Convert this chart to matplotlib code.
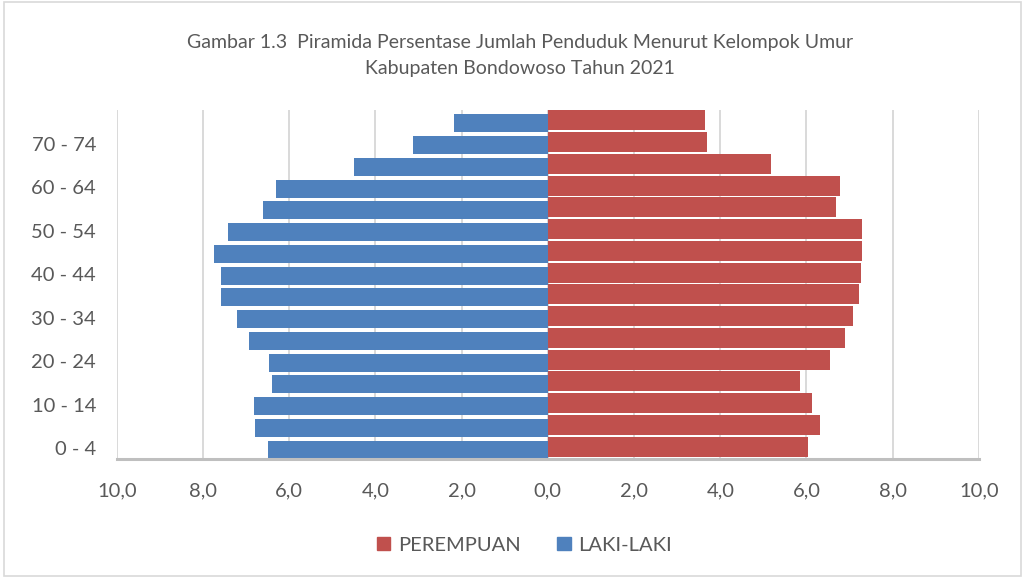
import matplotlib.pyplot as plt
from matplotlib.patches import Patch, Rectangle

plt.rcParams['font.family'] = ['Lato', 'DejaVu Sans']

age_groups = ['0 - 4', '5 - 9', '10 - 14', '15 - 19', '20 - 24', '25 - 29', '30 - 34', '35 - 39',
              '40 - 44', '45 - 49', '50 - 54', '55 - 59', '60 - 64', '65 - 69', '70 - 74', '75+']
laki = [6.49, 6.79, 6.81, 6.40, 6.47, 6.93, 7.21, 7.58,
        7.58, 7.74, 7.41, 6.60, 6.30, 4.50, 3.13, 2.18]
perempuan = [6.04, 6.32, 6.13, 5.85, 6.55, 6.90, 7.08, 7.22,
             7.27, 7.29, 7.29, 6.69, 6.78, 5.18, 3.70, 3.65]
xticks = [-10, -8, -6, -4, -2, 0, 2, 4, 6, 8, 10]

blue = '#4F81BD'
red = '#C0504D'
txt = '#595959'

fig = plt.figure(figsize=(10.25, 5.78), dpi=100)
ax = fig.add_axes([0.114, 0.206, 0.841, 0.604])

y = list(range(len(age_groups)))
ax.barh([v - 0.07 for v in y], [-v for v in laki], height=0.83, color=blue, zorder=3)
ax.barh([v + 0.07 for v in y], perempuan, height=0.92, color=red, zorder=3)

ax.set_xlim(-10, 10)
ax.set_ylim(-0.5, 15.55)
ax.set_xticks(xticks)
ax.set_xticklabels([('%.1f' % abs(v)).replace('.', ',') for v in xticks])
ax.set_yticks(y[::2])
ax.set_yticklabels(age_groups[::2])
ax.tick_params(axis='x', length=0, pad=17, labelsize=14.5, labelcolor=txt)
ax.tick_params(axis='y', length=0, pad=15, labelsize=14.5, labelcolor=txt)
ax.grid(axis='x', color='#d9d9d9', lw=1.4, zorder=0)
ax.axvline(0, color='#d9d9d9', lw=1.2, zorder=2)
for s in ['left', 'right', 'top']:
    ax.spines[s].set_visible(False)
ax.spines['bottom'].set_color('#bfbfbf')
ax.spines['bottom'].set_linewidth(2.2)
ax.spines['bottom'].set_zorder(4)

fig.text(0.507, 0.927, 'Gambar 1.3  Piramida Persentase Jumlah Penduduk Menurut Kelompok Umur',
         ha='center', va='center', fontsize=14, color=txt)
fig.text(0.507, 0.882, 'Kabupaten Bondowoso Tahun 2021',
         ha='center', va='center', fontsize=14, color=txt)

handles = [Patch(color=red, label='PEREMPUAN'), Patch(color=blue, label='LAKI-LAKI')]
leg = fig.legend(handles=handles, loc='center', bbox_to_anchor=(0.512, 0.057), ncol=2,
                 frameon=False, fontsize=14.5, handlelength=0.65, handleheight=0.65,
                 handletextpad=0.4, columnspacing=1.8)
for t in leg.get_texts():
    t.set_color(txt)

fig.patches.append(Rectangle((0.004, 0.004), 0.992, 0.992, transform=fig.transFigure,
                             fill=False, edgecolor='#d9d9d9', lw=1.2))

fig.savefig('out.png', dpi=100)
